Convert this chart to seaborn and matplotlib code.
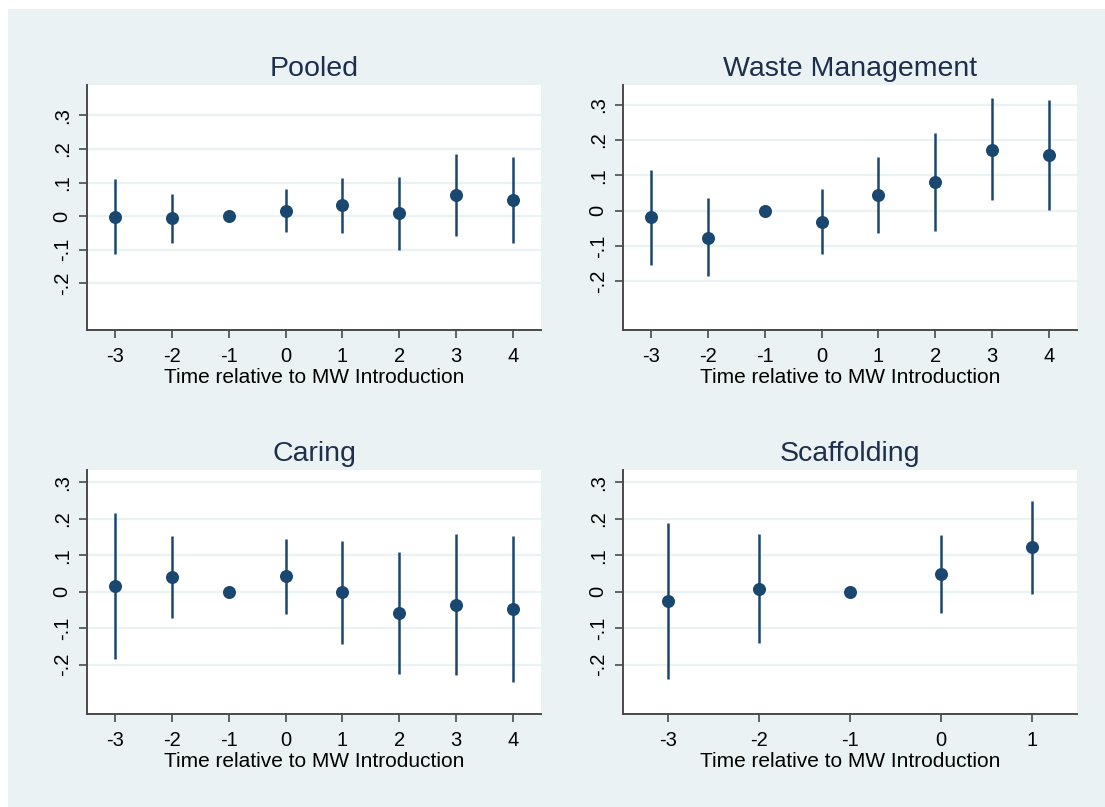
import numpy as np
import pandas as pd
import matplotlib
matplotlib.use("Agg")
import matplotlib.pyplot as plt
from matplotlib.patches import Rectangle
import seaborn as sns

# Event-study estimates and 95% confidence bounds by sector
periods_long = [-3, -2, -1, 0, 1, 2, 3, 4]
periods_short = [-3, -2, -1, 0, 1]

pooled_coef = [-0.002, -0.007, 0.0, 0.016, 0.033, 0.008, 0.062, 0.048]
pooled_lo = [-0.114, -0.080, np.nan, -0.048, -0.050, -0.100, -0.061, -0.080]
pooled_hi = [0.112, 0.066, np.nan, 0.080, 0.114, 0.116, 0.185, 0.177]

waste_coef = [-0.019, -0.076, 0.0, -0.031, 0.043, 0.080, 0.173, 0.157]
waste_lo = [-0.154, -0.185, np.nan, -0.124, -0.064, -0.057, 0.029, 0.003]
waste_hi = [0.115, 0.035, np.nan, 0.061, 0.151, 0.219, 0.319, 0.313]

caring_coef = [0.016, 0.040, 0.0, 0.042, -0.001, -0.058, -0.035, -0.047]
caring_lo = [-0.183, -0.072, np.nan, -0.061, -0.142, -0.225, -0.228, -0.246]
caring_hi = [0.216, 0.153, np.nan, 0.146, 0.139, 0.110, 0.158, 0.154]

scaff_coef = [-0.026, 0.009, 0.0, 0.049, 0.122]
scaff_lo = [-0.240, -0.139, np.nan, -0.057, -0.006]
scaff_hi = [0.189, 0.159, np.nan, 0.155, 0.249]

panel_titles = ["Pooled", "Waste Management", "Caring", "Scaffolding"]
y_ticks = [-0.2, -0.1, 0.0, 0.1, 0.2, 0.3]
y_tick_labels = ["-.2", "-.1", "0", ".1", ".2", ".3"]
x_label = "Time relative to MW Introduction"

sns.set_theme(style="white")
plt.rcParams["font.family"] = ["Liberation Sans", "DejaVu Sans"]

BG = "#EAF2F3"
NAVY = "#1a476f"
TITLE_COLOR = "#1e2f4d"
AXIS_COLOR = "#4a4a4a"

fig = plt.figure(figsize=(11.05, 8.07), dpi=100, facecolor="white")
fig.patches.append(Rectangle((8 / 1105, 0), 1 - 8 / 1105, 1 - 9 / 807,
                             transform=fig.transFigure, facecolor=BG,
                             edgecolor="none", zorder=-10))

W, H = 1105, 807
panels = [
    # (left, right, top, bottom) in pixels, data, x-limits, y-limits
    ((87, 541, 85, 330), periods_long, pooled_coef, pooled_lo, pooled_hi, (-3.5, 4.5), (-0.340, 0.391)),
    ((623, 1077, 85, 330), periods_long, waste_coef, waste_lo, waste_hi, (-3.5, 4.5), (-0.338, 0.356)),
    ((87, 541, 470, 714), periods_long, caring_coef, caring_lo, caring_hi, (-3.5, 4.5), (-0.335, 0.334)),
    ((623, 1077, 470, 714), periods_short, scaff_coef, scaff_lo, scaff_hi, (-3.5, 1.5), (-0.335, 0.334)),
]

for (box, xs, coef, lo, hi, xlim, ylim), title in zip(panels, panel_titles):
    l, r, t, b = box
    ax = fig.add_axes([l / W, 1 - b / H, (r - l) / W, (b - t) / H])
    ax.set_facecolor("white")
    df = pd.DataFrame({"t": xs, "coef": coef, "lo": lo, "hi": hi})

    for yv in y_ticks:
        ax.axhline(yv, color=BG, lw=1.6, zorder=0)

    ci = df.dropna()
    ax.vlines(ci["t"], ci["lo"], ci["hi"], color=NAVY, lw=1.8, zorder=2)
    sns.scatterplot(data=df, x="t", y="coef", ax=ax, color=NAVY, s=88,
                    edgecolor=NAVY, linewidth=0, zorder=3, legend=False)

    ax.set_xlim(*xlim)
    ax.set_ylim(*ylim)
    ax.set_xticks(xs)
    ax.set_xticklabels([str(v) for v in xs], fontsize=14.5, color="black")
    ax.set_yticks(y_ticks)
    ax.set_yticklabels(y_tick_labels, fontsize=14.5, color="black",
                       rotation=90, va="center")
    ax.tick_params(axis="both", which="major", direction="out", length=5.5,
                   width=1.2, color=AXIS_COLOR, bottom=True, left=True)
    ax.tick_params(axis="x", pad=6.5)
    ax.tick_params(axis="y", pad=5.5)
    ax.set_xlabel(x_label, fontsize=15, color="black", labelpad=2)
    ax.set_ylabel("")
    ax.set_title(title, fontsize=20.5, color=TITLE_COLOR, pad=6.5)

    for side in ["top", "right"]:
        ax.spines[side].set_visible(False)
    for side in ["left", "bottom"]:
        ax.spines[side].set_visible(True)
        ax.spines[side].set_color(AXIS_COLOR)
        ax.spines[side].set_linewidth(1.4)

fig.savefig("out.png", dpi=100, facecolor="white")
